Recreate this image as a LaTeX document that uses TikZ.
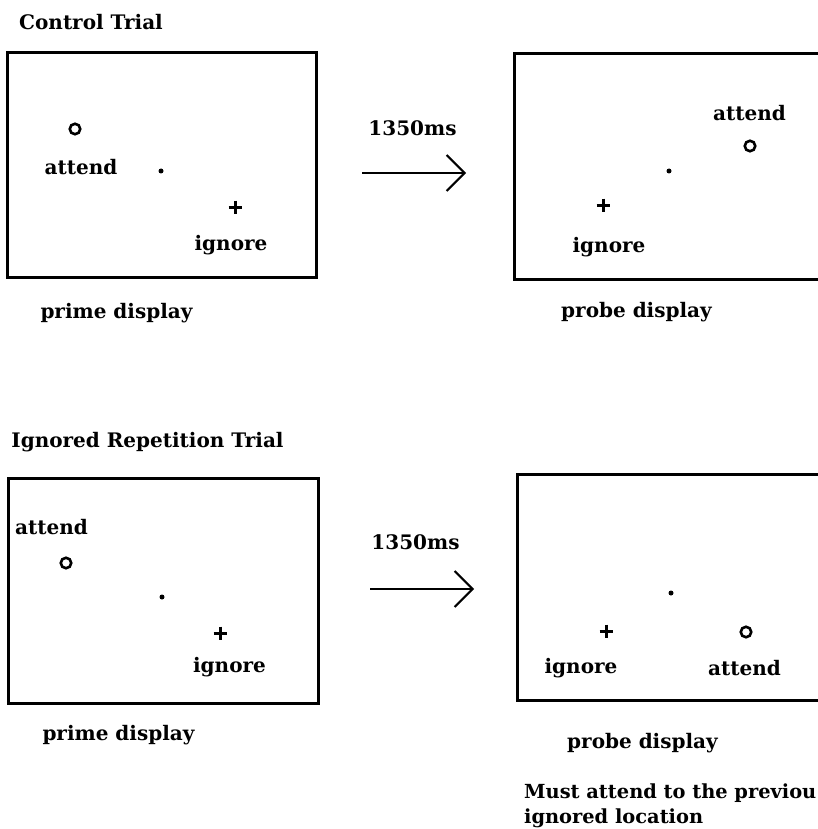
\documentclass[tikz,border=0pt]{standalone}
\usepackage{fontspec}
\setmainfont{DejaVu Serif}
\usetikzlibrary{arrows.meta}
\begin{document}
\begin{tikzpicture}[x=1pt,y=-1pt,
  panel/.style={draw, line width=2.8pt, inner sep=0pt},
  lbl/.style={inner sep=0pt, font=\fontsize{20}{24}\selectfont\bfseries},
  note/.style={inner sep=0pt, anchor=base west, font=\fontsize{19.4}{24}\selectfont\bfseries},
  ring/.style={circle, draw, line width=2.6pt, minimum size=10.5pt, inner sep=0pt},
  fixdot/.style={circle, fill, minimum size=5pt, inner sep=0pt},
  delay/.style={line width=2pt, -{Straight Barb[length=18pt, width=36pt, line width=2pt]}},
  plussign/.pic={\draw[line width=3pt] (-6.5,0) -- (6.5,0) (0,-6.5) -- (0,6.5);}
]
\clip (0,0) rectangle (818,829);
\fill[white] (0,0) rectangle (818,829);

% ---------------- Control trial ----------------
\node[lbl] (title1) at (91,22) {Control Trial};

\node[panel, minimum width=309pt, minimum height=225pt] (prime1) at (162,165) {};
\node[ring] (att1) at (75,129) {};
\node[lbl] (attl1) at (81,167) {attend};
\node[fixdot] (fix1) at (161,171) {};
\pic at (235,207) {plussign};
\node[lbl] (ignl1) at (231,245) {ignore};
\node[lbl] (cap1) at (116.5,313) {prime display};

\coordinate (a1s) at (362,173);
\coordinate (a1e) at (466,173);
\draw[delay] (a1s) -- (a1e);
\node[lbl] (ms1) at (412.5,128) {1350ms};

\node[panel, minimum width=319.5pt, minimum height=226pt] (probe1) at (674.25,166.5) {};
\node[lbl] (attl2) at (749.5,113) {attend};
\node[ring] (att2) at (750,146) {};
\node[fixdot] (fix2) at (669,171) {};
\pic at (603,205) {plussign};
\node[lbl] (ignl2) at (609,247) {ignore};
\node[lbl] (cap2) at (636.5,312) {probe display};

% ---------------- Ignored repetition trial ----------------
\node[lbl] (title2) at (147.5,442) {Ignored Repetition Trial};

\node[panel, minimum width=310pt, minimum height=225pt] (prime2) at (163.5,591) {};
\node[lbl] (attl3) at (51.5,527) {attend};
\node[ring] (att3) at (66,563) {};
\node[fixdot] (fix3) at (162,597) {};
\pic at (220,633) {plussign};
\node[lbl] (ignl3) at (229.5,667) {ignore};
\node[lbl] (cap3) at (118.5,735) {prime display};

\coordinate (a2s) at (370,589);
\coordinate (a2e) at (474,589);
\draw[delay] (a2s) -- (a2e);
\node[lbl] (ms2) at (415.5,542) {1350ms};

\node[panel, minimum width=316.5pt, minimum height=226pt] (probe2) at (675.75,587.5) {};
\node[fixdot] (fix4) at (671,593) {};
\pic at (606,631) {plussign};
\node[ring] (att4) at (746,632) {};
\node[lbl] (ignl4) at (581,668) {ignore};
\node[lbl] (attl4) at (744.5,668) {attend};
\node[lbl] (cap4) at (642.5,743) {probe display};

\node[note] (note1) at (524,798) {Must attend to the previou};
\node[note] (note2) at (524,823) {ignored location};
\end{tikzpicture}
\end{document}
